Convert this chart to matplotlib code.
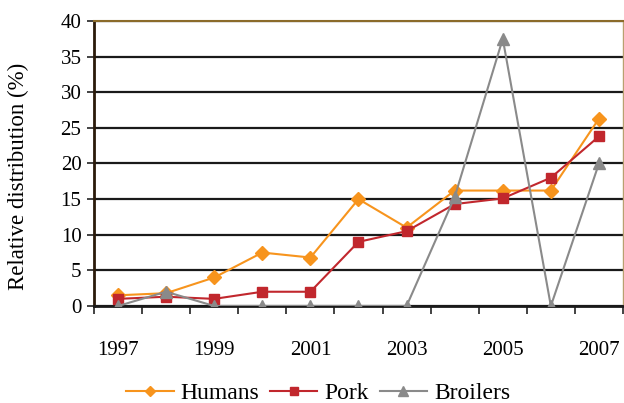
import matplotlib
matplotlib.use("Agg")
import matplotlib.pyplot as plt
import numpy as np

years = [1997, 1998, 1999, 2000, 2001, 2002, 2003, 2004, 2005, 2006, 2007]
humans = [1.5, 1.8, 4.0, 7.5, 6.8, 15.0, 11.0, 16.2, 16.2, 16.2, 26.3]
pork = [1.0, 1.3, 1.0, 2.0, 2.0, 9.0, 10.5, 14.3, 15.1, 18.0, 23.8]
broilers = [0.0, 2.0, 0.0, 0.0, 0.0, 0.0, 0.0, 15.3, 37.5, 0.0, 20.0]

plt.rcParams['font.family'] = ['Liberation Serif', 'DejaVu Serif']

fig = plt.figure(figsize=(6.24, 4.03), dpi=100)
ax = fig.add_axes([0.1506, 0.2407, 0.8478, 0.7073])

x = np.arange(len(years))
ax.plot(x, humans, color='#f7941d', marker='D', markersize=7, linewidth=1.5, label='Humans', zorder=3)
ax.plot(x, pork, color='#c1272d', marker='s', markersize=7, linewidth=1.5, label='Pork', zorder=4)
ax.plot(x, broilers, color='#8a8a8a', marker='^', markersize=9, linewidth=1.5, label='Broilers', zorder=5)

ax.set_xlim(-0.5, len(years) - 0.5)
ax.set_ylim(0, 40)
ax.set_yticks(range(0, 41, 5))
ax.tick_params(axis='y', labelsize=15, direction='out', length=5, width=1.2, color='#222222', pad=4)

# year labels on odd years, tick marks between categories
ax.set_xticks(x[::2])
ax.set_xticklabels([str(y) for y in years[::2]], fontsize=15)
ax.tick_params(axis='x', which='major', length=0, pad=25)
ax.set_xticks(np.arange(-0.5, len(years), 1.0), minor=True)
ax.tick_params(axis='x', which='minor', direction='out', length=6, width=1.2, color='#222222')

ax.yaxis.grid(True, color='#1a1a1a', linewidth=1.6)
ax.set_axisbelow(True)

ax.spines['left'].set_color('#2a1a0a')
ax.spines['left'].set_linewidth(2)
ax.spines['bottom'].set_color('#1a1a1a')
ax.spines['bottom'].set_linewidth(2)
ax.spines['top'].set_color('#8b6b2a')
ax.spines['top'].set_linewidth(1.5)
ax.spines['right'].set_color('#b8a070')
ax.spines['right'].set_linewidth(1.0)

ax.set_ylabel('Relative distribution (%)', fontsize=16.5)
ax.yaxis.set_label_coords(-0.122, 0.455)

leg = fig.legend(loc='lower center', bbox_to_anchor=(0.51, -0.055), ncol=3, frameon=False,
                 fontsize=17, handlelength=2.0, columnspacing=0.45, handletextpad=0.3,
                 markerscale=0.8)

fig.savefig('out.png', dpi=100)
